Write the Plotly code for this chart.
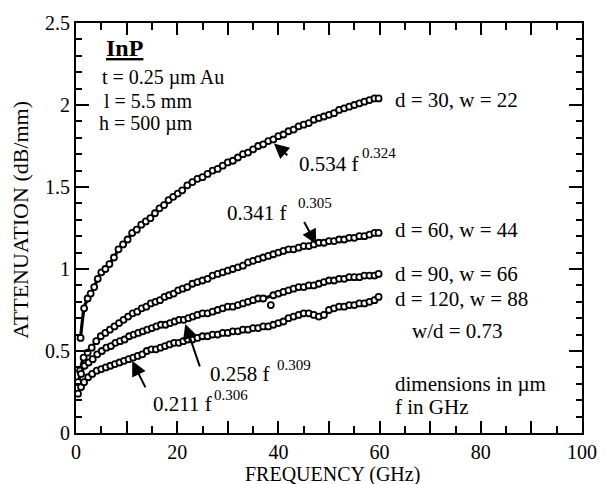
import plotly.graph_objects as go

# Measured attenuation of InP coplanar lines, d = gap spacing, w = centre width (um)
f_30 = [0.9, 1.6, 2.3, 2.9, 3.6, 4.3, 5.0, 5.8, 6.6, 7.5, 8.4, 9.3, 10.2, 11.1, 12.0, 12.9,
        13.8, 14.7, 15.6, 16.5, 17.4, 18.3, 19.2, 20.1, 21.0, 22.0, 23.0, 24.0, 25.0, 26.0,
        27.0, 28.0, 29.0, 30.0, 31.0, 32.0, 33.0, 34.0, 35.0, 36.0, 37.0, 38.0, 39.0, 40.0,
        41.0, 42.0, 43.0, 44.0, 45.0, 46.0, 47.0, 48.0, 49.0, 50.0, 51.0, 52.0, 53.0, 54.0,
        55.0, 56.0, 57.0, 58.0, 59.0, 59.8]
a_30 = [0.58, 0.76, 0.82, 0.85, 0.89, 0.94, 0.98, 1.00, 1.03, 1.07, 1.12, 1.15, 1.18, 1.22,
        1.24, 1.27, 1.29, 1.31, 1.34, 1.37, 1.39, 1.42, 1.44, 1.46, 1.48, 1.51, 1.53, 1.55,
        1.56, 1.58, 1.60, 1.61, 1.63, 1.65, 1.66, 1.68, 1.70, 1.71, 1.73, 1.75, 1.76, 1.78,
        1.79, 1.81, 1.82, 1.84, 1.85, 1.87, 1.88, 1.89, 1.91, 1.92, 1.93, 1.94, 1.95, 1.97,
        1.98, 1.99, 2.00, 2.01, 2.02, 2.03, 2.04, 2.04]

f_60 = [0.8, 1.5, 2.3, 3.1, 4.0, 4.9, 5.8, 6.7, 7.6, 8.5, 9.4, 10.3, 11.2, 12.1, 13.0, 13.9,
        14.8, 15.7, 16.6, 17.5, 18.4, 19.3, 20.2, 21.1, 22.0, 23.0, 24.0, 25.0, 26.0, 27.0,
        28.0, 29.0, 30.0, 31.0, 32.0, 33.0, 34.0, 35.0, 36.0, 37.0, 38.0, 39.0, 40.0, 41.0,
        42.0, 43.0, 44.0, 45.0, 46.0, 47.0, 48.0, 49.0, 50.0, 51.0, 52.0, 53.0, 54.0, 55.0,
        56.0, 57.0, 58.0, 59.0, 59.8]
a_60 = [0.38, 0.46, 0.49, 0.52, 0.56, 0.59, 0.61, 0.63, 0.65, 0.67, 0.69, 0.71, 0.73, 0.74,
        0.76, 0.77, 0.79, 0.80, 0.81, 0.83, 0.84, 0.85, 0.87, 0.88, 0.89, 0.91, 0.92, 0.93,
        0.94, 0.96, 0.97, 0.98, 0.99, 1.00, 1.01, 1.02, 1.04, 1.05, 1.06, 1.07, 1.08, 1.09,
        1.10, 1.11, 1.12, 1.12, 1.13, 1.14, 1.14, 1.15, 1.16, 1.16, 1.17, 1.17, 1.18, 1.18,
        1.19, 1.19, 1.20, 1.20, 1.21, 1.22, 1.22]

f_90 = [0.4, 1.0, 1.7, 2.5, 3.3, 4.2, 5.1, 6.0, 6.9, 7.8, 8.7, 9.6, 10.5, 11.4, 12.3, 13.2,
        14.1, 15.0, 15.9, 16.8, 17.7, 18.6, 19.5, 20.4, 21.3, 22.2, 23.1, 24.0, 25.0, 26.0,
        27.0, 28.0, 29.0, 30.0, 31.0, 32.0, 33.0, 34.0, 35.0, 36.0, 37.0, 39.0, 40.0, 41.0,
        42.0, 43.0, 44.0, 45.0, 46.0, 47.0, 48.0, 49.0, 50.0, 51.0, 52.0, 53.0, 54.0, 55.0,
        56.0, 57.0, 58.0, 59.0, 59.8]
a_90 = [0.31, 0.36, 0.41, 0.43, 0.45, 0.48, 0.50, 0.52, 0.53, 0.55, 0.56, 0.57, 0.59, 0.60,
        0.61, 0.62, 0.63, 0.64, 0.65, 0.66, 0.66, 0.67, 0.68, 0.69, 0.69, 0.70, 0.71, 0.72,
        0.73, 0.73, 0.74, 0.75, 0.76, 0.77, 0.77, 0.78, 0.79, 0.80, 0.81, 0.82, 0.82, 0.84,
        0.85, 0.86, 0.87, 0.88, 0.89, 0.89, 0.90, 0.90, 0.91, 0.92, 0.93, 0.93, 0.94, 0.94,
        0.95, 0.95, 0.95, 0.96, 0.96, 0.96, 0.97]
# stray reading off the d = 90 trend
f_90_stray = [38.5]
a_90_stray = [0.78]

f_120 = [0.4, 1.0, 1.6, 2.4, 3.2, 4.1, 5.0, 5.9, 6.8, 7.7, 8.6, 9.5, 10.4, 11.3, 12.2, 13.1,
         14.0, 14.9, 15.8, 16.7, 17.6, 18.5, 19.4, 20.3, 21.2, 22.1, 23.0, 24.0, 25.0, 26.0,
         27.0, 28.0, 29.0, 30.0, 31.0, 32.0, 33.0, 34.0, 35.0, 36.0, 37.0, 38.0, 39.0, 40.0,
         41.0, 42.0, 43.0, 44.0, 45.0, 46.0, 47.0, 48.0, 49.0, 50.0, 51.0, 52.0, 53.0, 54.0,
         55.0, 56.0, 57.0, 58.0, 59.0, 59.8]
a_120 = [0.24, 0.28, 0.31, 0.34, 0.36, 0.38, 0.39, 0.40, 0.41, 0.42, 0.43, 0.44, 0.45, 0.46,
         0.47, 0.48, 0.50, 0.51, 0.51, 0.52, 0.53, 0.54, 0.55, 0.55, 0.56, 0.57, 0.57, 0.58,
         0.59, 0.59, 0.60, 0.60, 0.61, 0.61, 0.62, 0.62, 0.63, 0.63, 0.64, 0.64, 0.65, 0.65,
         0.66, 0.67, 0.68, 0.70, 0.71, 0.72, 0.73, 0.73, 0.72, 0.71, 0.72, 0.75, 0.76, 0.77,
         0.77, 0.78, 0.78, 0.79, 0.79, 0.80, 0.81, 0.83]

x_tickvals = [0, 10, 20, 30, 40, 50, 60, 70, 80, 90, 100]
x_ticktext = ["0", "", "20", "", "40", "", "60", "", "80", "", "100"]

SERIF = "Liberation Serif"

fig = go.Figure()

marker = dict(symbol="circle", size=6, color="white", line=dict(color="black", width=1.8))
for fx, ay in [(f_30, a_30), (f_60, a_60), (f_90, a_90), (f_120, a_120)]:
    fig.add_trace(go.Scatter(x=fx, y=ay, mode="lines+markers",
                             line=dict(color="black", width=3.2, shape="spline", smoothing=0.6),
                             marker=marker, showlegend=False, hoverinfo="skip"))
fig.add_trace(go.Scatter(x=f_90_stray, y=a_90_stray, mode="markers", marker=marker,
                         showlegend=False, hoverinfo="skip"))

# plain text notes: (text, x, y, size)
notes = [
    ("<b><u>InP</u></b>", 5.6, 2.35, 24),
    ("t = 0.25 µm Au", 4.7, 2.165, 20),
    ("l = 5.5 mm", 5.1, 2.025, 20),
    ("h = 500 µm", 4.1, 1.886, 20),
    ("d = 30, w = 22", 62.6, 2.03, 21),
    ("d = 60, w = 44", 62.6, 1.24, 21),
    ("d = 90, w = 66", 62.6, 0.97, 21),
    ("d = 120, w = 88", 62.6, 0.82, 21),
    ("w/d = 0.73", 66.0, 0.62, 21),
    ("dimensions in µm", 62.6, 0.30, 21),
    ("f in GHz", 62.6, 0.157, 21),
    # power-law fits: base and exponent
    ("0.534 f", 43.6, 1.64, 21), ("0.324", 56.2, 1.705, 15),
    ("0.341 f", 29.4, 1.343, 21), ("0.305", 43.4, 1.40, 15),
    ("0.258 f", 26.1, 0.361, 21), ("0.309", 39.3, 0.416, 15),
    ("0.211 f", 14.8, 0.175, 21), ("0.306", 26.9, 0.229, 15),
]
for text, x, y, size in notes:
    fig.add_annotation(x=x, y=y, text=text, showarrow=False, xanchor="left", yanchor="middle",
                       font=dict(family=SERIF, size=size, color="black"))

# arrows from the fit labels to their curves: (tip x, tip y, ax px, ay px)
arrows = [(39.1, 1.765, 15, 13), (47.5, 1.15, -13, -24),
          (21.6, 0.665, 15, 44), (11.1, 0.44, 14, 28)]
for x, y, ax, ay in arrows:
    fig.add_annotation(x=x, y=y, ax=ax, ay=ay, text="", showarrow=True, arrowhead=2,
                       arrowsize=1.5, arrowwidth=2, arrowcolor="black")

fig.add_annotation(xref="paper", yref="paper", x=-0.109, y=0.52, text="ATTENUATION (dB/mm)",
                   textangle=-90, showarrow=False, xanchor="center", yanchor="middle",
                   font=dict(family=SERIF, size=22, color="black"))
fig.add_annotation(xref="paper", yref="paper", x=0.506, y=-0.1, text="FREQUENCY (GHz)",
                   showarrow=False, xanchor="center", yanchor="middle",
                   font=dict(family=SERIF, size=20, color="black"))

axis_common = dict(showgrid=False, zeroline=False, showline=True, linecolor="black", linewidth=2,
                   mirror="ticks", ticks="inside", tickcolor="black", tickwidth=1.5,
                   tickfont=dict(family=SERIF, size=20, color="black"))
fig.update_xaxes(range=[0, 100], tickmode="array", tickvals=x_tickvals, ticktext=x_ticktext,
                 ticklen=12, minor=dict(dtick=5, ticklen=7, ticks="inside", tickcolor="black",
                                        tickwidth=1.5),
                 **axis_common)
fig.update_yaxes(range=[0, 2.5], dtick=0.5, ticklen=13,
                 minor=dict(dtick=0.1, ticklen=6, ticks="inside", tickcolor="black", tickwidth=1.5),
                 **axis_common)

fig.update_layout(width=609, height=484, margin=dict(l=76, r=19, t=18, b=51),
                  paper_bgcolor="white", plot_bgcolor="white",
                  font=dict(family=SERIF, color="black"))

fig.write_html("out.html")
